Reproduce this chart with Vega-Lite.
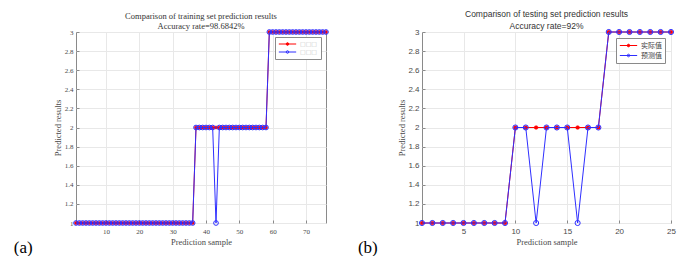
{
  "$schema": "https://vega.github.io/schema/vega-lite/v6.json",
  "background": "white",
  "padding": {"left": 13, "top": 9, "right": 0, "bottom": 0},
  "config": {
    "view": {"stroke": "#8a8a8a", "strokeWidth": 1},
    "axis": {"grid": true, "gridColor": "#e8e8e8", "gridWidth": 1, "domain": false, "ticks": true, "tickSize": -3, "tickColor": "#8a8a8a", "tickWidth": 1, "labelFlush": false, "labelOverlap": false, "titleFontWeight": "normal", "labelColor": "#4a4a4a", "titleColor": "#4a4a4a"}
  },
  "datasets": {
    "train": [
      {"i":1,"a":1,"p":1},{"i":2,"a":1,"p":1},{"i":3,"a":1,"p":1},{"i":4,"a":1,"p":1},{"i":5,"a":1,"p":1},{"i":6,"a":1,"p":1},{"i":7,"a":1,"p":1},{"i":8,"a":1,"p":1},{"i":9,"a":1,"p":1},{"i":10,"a":1,"p":1},
      {"i":11,"a":1,"p":1},{"i":12,"a":1,"p":1},{"i":13,"a":1,"p":1},{"i":14,"a":1,"p":1},{"i":15,"a":1,"p":1},{"i":16,"a":1,"p":1},{"i":17,"a":1,"p":1},{"i":18,"a":1,"p":1},{"i":19,"a":1,"p":1},{"i":20,"a":1,"p":1},
      {"i":21,"a":1,"p":1},{"i":22,"a":1,"p":1},{"i":23,"a":1,"p":1},{"i":24,"a":1,"p":1},{"i":25,"a":1,"p":1},{"i":26,"a":1,"p":1},{"i":27,"a":1,"p":1},{"i":28,"a":1,"p":1},{"i":29,"a":1,"p":1},{"i":30,"a":1,"p":1},
      {"i":31,"a":1,"p":1},{"i":32,"a":1,"p":1},{"i":33,"a":1,"p":1},{"i":34,"a":1,"p":1},{"i":35,"a":1,"p":1},{"i":36,"a":1,"p":1},{"i":37,"a":2,"p":2},{"i":38,"a":2,"p":2},{"i":39,"a":2,"p":2},{"i":40,"a":2,"p":2},
      {"i":41,"a":2,"p":2},{"i":42,"a":2,"p":2},{"i":43,"a":2,"p":1},{"i":44,"a":2,"p":2},{"i":45,"a":2,"p":2},{"i":46,"a":2,"p":2},{"i":47,"a":2,"p":2},{"i":48,"a":2,"p":2},{"i":49,"a":2,"p":2},{"i":50,"a":2,"p":2},
      {"i":51,"a":2,"p":2},{"i":52,"a":2,"p":2},{"i":53,"a":2,"p":2},{"i":54,"a":2,"p":2},{"i":55,"a":2,"p":2},{"i":56,"a":2,"p":2},{"i":57,"a":2,"p":2},{"i":58,"a":2,"p":2},{"i":59,"a":3,"p":3},{"i":60,"a":3,"p":3},
      {"i":61,"a":3,"p":3},{"i":62,"a":3,"p":3},{"i":63,"a":3,"p":3},{"i":64,"a":3,"p":3},{"i":65,"a":3,"p":3},{"i":66,"a":3,"p":3},{"i":67,"a":3,"p":3},{"i":68,"a":3,"p":3},{"i":69,"a":3,"p":3},{"i":70,"a":3,"p":3},
      {"i":71,"a":3,"p":3},{"i":72,"a":3,"p":3},{"i":73,"a":3,"p":3},{"i":74,"a":3,"p":3},{"i":75,"a":3,"p":3},{"i":76,"a":3,"p":3}
    ],
    "test": [
      {"i":1,"a":1,"p":1},{"i":2,"a":1,"p":1},{"i":3,"a":1,"p":1},{"i":4,"a":1,"p":1},{"i":5,"a":1,"p":1},{"i":6,"a":1,"p":1},{"i":7,"a":1,"p":1},{"i":8,"a":1,"p":1},{"i":9,"a":1,"p":1},
      {"i":10,"a":2,"p":2},{"i":11,"a":2,"p":2},{"i":12,"a":2,"p":1},{"i":13,"a":2,"p":2},{"i":14,"a":2,"p":2},{"i":15,"a":2,"p":2},{"i":16,"a":2,"p":1},{"i":17,"a":2,"p":2},{"i":18,"a":2,"p":2},
      {"i":19,"a":3,"p":3},{"i":20,"a":3,"p":3},{"i":21,"a":3,"p":3},{"i":22,"a":3,"p":3},{"i":23,"a":3,"p":3},{"i":24,"a":3,"p":3},{"i":25,"a":3,"p":3}
    ]
  },
  "spacing": 26,
  "resolve": {"scale": {"stroke": "independent", "x": "independent", "y": "independent"}, "legend": {"stroke": "independent"}, "axis": {"x": "independent", "y": "independent"}},
  "hconcat": [
    {
      "title": {"text": "(a)", "orient": "bottom", "anchor": "start", "font": "Liberation Serif", "fontSize": 17, "fontWeight": "normal", "color": "#000000", "dx": -39, "dy": -6, "offset": 0},
      "resolve": {"scale": {"stroke": "independent", "x": "independent", "y": "independent"}, "legend": {"stroke": "independent"}, "axis": {"x": "independent", "y": "independent"}},
      "vconcat": [
        {
          "width": 250,
          "height": 191,
          "data": {"name": "train"},
          "title": {"text": ["Comparison of training set prediction results", "Accuracy rate=98.6842%"], "font": "Liberation Serif", "fontSize": 8.5, "fontWeight": "normal", "color": "#333333", "lineHeight": 10, "offset": -3},
          "encoding": {
            "x": {"field": "i", "type": "quantitative", "scale": {"domain": [1, 76], "nice": false, "zero": false},
                  "axis": {"values": [10, 20, 30, 40, 50, 60, 70], "title": "Prediction sample", "labelFont": "Liberation Serif", "labelFontSize": 7, "labelPadding": 7, "titleFont": "Liberation Serif", "titleFontSize": 8.5, "titlePadding": 3}}
          },
          "layer": [
            {
              "mark": {"type": "line", "strokeWidth": 1, "point": {"filled": true, "fill": "red", "size": 10, "strokeWidth": 0.5}},
              "encoding": {
                "y": {"field": "a", "type": "quantitative", "scale": {"domain": [1, 3], "nice": false, "zero": false},
                      "axis": {"values": [1, 1.2, 1.4, 1.6, 1.8, 2, 2.2, 2.4, 2.6, 2.8, 3], "format": "~g", "title": "Predicted results", "labelFont": "Liberation Serif", "labelFontSize": 7, "labelPadding": 6, "titleFont": "Liberation Serif", "titleFontSize": 8.5, "titlePadding": 2}},
                "stroke": {"datum": "实际值", "type": "nominal", "scale": {"domain": ["实际值", "预测值"], "range": ["#ff0000", "#2f2fff"]},
                  "legend": {"title": null, "orient": "top-right", "offset": 5, "padding": 3, "strokeColor": "#8a8a8a", "fillColor": "white", "cornerRadius": 0,
                    "symbolType": "M-1,0L1,0M0.15,0A0.15 0.15 0 1 1 -0.15,0A0.15 0.15 0 1 1 0.15,0", "symbolSize": 300, "symbolStrokeWidth": 1, "clipHeight": 8,
                    "labelFont": "DejaVu Sans", "labelFontSize": 6, "labelColor": "#c4c4c4", "labelExpr": "'□□□'", "labelOffset": 3, "rowPadding": 0,
                    "encode": {"symbols": {"update": {"fill": {"signal": "datum.value === '实际值' ? '#ff0000' : 'transparent'"}}}}}}
              }
            },
            {
              "mark": {"type": "line", "strokeWidth": 1, "point": {"filled": false, "size": 22, "strokeWidth": 1}},
              "encoding": {
                "y": {"field": "p", "type": "quantitative",
                      "axis": {"values": [1, 1.2, 1.4, 1.6, 1.8, 2, 2.2, 2.4, 2.6, 2.8, 3], "format": "~g", "title": "Predicted results", "labelFont": "Liberation Serif", "labelFontSize": 7, "labelPadding": 6, "titleFont": "Liberation Serif", "titleFontSize": 8.5, "titlePadding": 2}},
                "stroke": {"datum": "预测值", "type": "nominal"}
              }
            }
          ]
        }
      ]
    },
    {
      "title": {"text": "(b)", "orient": "bottom", "anchor": "start", "font": "Liberation Serif", "fontSize": 17, "fontWeight": "normal", "color": "#000000", "dx": -39, "dy": -6, "offset": 0},
      "resolve": {"scale": {"stroke": "independent", "x": "independent", "y": "independent"}, "legend": {"stroke": "independent"}, "axis": {"x": "independent", "y": "independent"}},
      "vconcat": [
        {
          "width": 249,
          "height": 191,
          "data": {"name": "test"},
          "title": {"text": ["Comparison of testing set prediction results", "Accuracy rate=92%"], "font": "Liberation Sans", "fontSize": 8.5, "fontWeight": "normal", "color": "#333333", "lineHeight": 11.5, "offset": -3},
          "encoding": {
            "x": {"field": "i", "type": "quantitative", "scale": {"domain": [1, 25], "nice": false, "zero": false},
                  "axis": {"values": [5, 10, 15, 20, 25], "title": "Prediction sample", "labelFont": "Liberation Sans", "labelFontSize": 8, "labelPadding": 7, "titleFont": "Liberation Serif", "titleFontSize": 8.5, "titlePadding": 2}}
          },
          "layer": [
            {
              "mark": {"type": "line", "strokeWidth": 1, "point": {"filled": true, "fill": "red", "size": 14, "strokeWidth": 0.5}},
              "encoding": {
                "y": {"field": "a", "type": "quantitative", "scale": {"domain": [1, 3], "nice": false, "zero": false},
                      "axis": {"values": [1, 1.2, 1.4, 1.6, 1.8, 2, 2.2, 2.4, 2.6, 2.8, 3], "format": "~g", "title": "Predicted results", "labelFont": "Liberation Sans", "labelFontSize": 8, "labelPadding": 6, "titleFont": "Liberation Serif", "titleFontSize": 8.5, "titlePadding": 1.5}},
                "stroke": {"datum": "实际值", "type": "nominal", "scale": {"domain": ["实际值", "预测值"], "range": ["#ff0000", "#2f2fff"]},
                  "legend": {"title": null, "orient": "top-right", "offset": 6, "padding": 3, "strokeColor": "#8a8a8a", "fillColor": "white", "cornerRadius": 0,
                    "symbolType": "M-1,0L1,0M0.15,0A0.15 0.15 0 1 1 -0.15,0A0.15 0.15 0 1 1 0.15,0", "symbolSize": 300, "symbolStrokeWidth": 1, "clipHeight": 9,
                    "labelFont": "Noto Sans CJK SC", "labelFontSize": 7, "labelColor": "#404040", "labelOffset": 3, "rowPadding": 1,
                    "encode": {"symbols": {"update": {"fill": {"signal": "datum.value === '实际值' ? '#ff0000' : 'transparent'"}}}}}}
              }
            },
            {
              "mark": {"type": "line", "strokeWidth": 1, "point": {"filled": false, "size": 26, "strokeWidth": 1}},
              "encoding": {
                "y": {"field": "p", "type": "quantitative",
                      "axis": {"values": [1, 1.2, 1.4, 1.6, 1.8, 2, 2.2, 2.4, 2.6, 2.8, 3], "format": "~g", "title": "Predicted results", "labelFont": "Liberation Sans", "labelFontSize": 8, "labelPadding": 6, "titleFont": "Liberation Serif", "titleFontSize": 8.5, "titlePadding": 1.5}},
                "stroke": {"datum": "预测值", "type": "nominal"}
              }
            }
          ]
        }
      ]
    }
  ]
}
